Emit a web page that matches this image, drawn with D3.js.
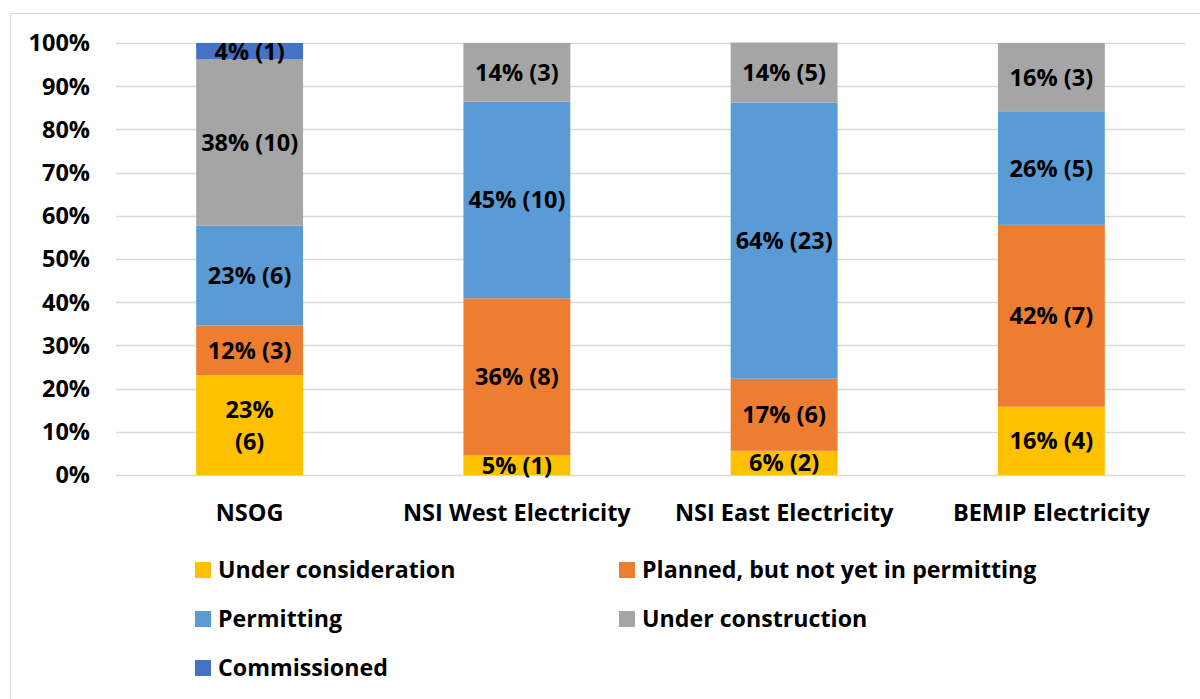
<!DOCTYPE html>
<html>
<head>
<meta charset="utf-8">
<script src="https://d3js.org/d3.v7.min.js"></script>
<style>
  body { margin: 0; background: #fff; }
  svg text { font-family: "Open Sans", Lato, sans-serif; font-weight: bold; fill: #000; }
</style>
</head>
<body>
<div id="chart"></div>
<script>

var categories = ["NSOG", "NSI West Electricity", "NSI East Electricity", "BEMIP Electricity"];

var seriesNames = ["Under consideration", "Planned, but not yet in permitting", "Permitting", "Under construction", "Commissioned"];

// share of projects (%) per status, one array per status
var underConsideration = [23.1, 4.5, 5.6, 15.8];
var planned           = [11.5, 36.4, 16.7, 42.1];
var permitting        = [23.1, 45.5, 63.9, 26.3];
var underConstruction = [38.5, 13.6, 13.9, 15.8];
var commissioned      = [3.8, 0, 0, 0];

// labels shown in the segments
var pctLabels = [
  ["23%", "5%", "6%", "16%"],
  ["12%", "36%", "17%", "42%"],
  ["23%", "45%", "64%", "26%"],
  ["38%", "14%", "14%", "16%"],
  ["4%", "", "", ""]
];
var counts = [
  [6, 1, 2, 4],
  [3, 8, 6, 7],
  [6, 10, 23, 5],
  [10, 3, 5, 3],
  [1, 0, 0, 0]
];

var yTicks = [0, 10, 20, 30, 40, 50, 60, 70, 80, 90, 100];

var colors = ["#FFC000", "#ED7D31", "#5B9BD5", "#A5A5A5", "#4472C4"];

var width = 1200, height = 699;
var fs = "23.5px";

var svg = d3.select("#chart").append("svg")
  .attr("width", width)
  .attr("height", height);

// chart frame
svg.append("path")
  .attr("d", "M10.5,699 L10.5,13.5 L1200,13.5")
  .attr("fill", "none")
  .attr("stroke", "#d9d9d9")
  .attr("stroke-width", 1);

var x = d3.scaleBand()
  .domain(categories)
  .range([116, 1185])
  .paddingInner(0.6)
  .paddingOuter(0.3);

var y = d3.scaleLinear()
  .domain([0, 100])
  .range([475, 43]);

// gridlines
svg.append("g")
  .selectAll("line")
  .data(yTicks)
  .enter().append("line")
  .attr("x1", 116)
  .attr("x2", 1185)
  .attr("y1", d => Math.round(y(d)) + 0.5)
  .attr("y2", d => Math.round(y(d)) + 0.5)
  .attr("stroke", "#d9d9d9")
  .attr("stroke-width", 1.5);

// y tick labels
svg.append("g")
  .selectAll("text")
  .data(yTicks)
  .enter().append("text")
  .attr("x", 90)
  .attr("y", d => y(d))
  .attr("dy", "0.36em")
  .attr("text-anchor", "end")
  .style("font-size", fs)
  .text(d => d + "%");

var seriesValues = [underConsideration, planned, permitting, underConstruction, commissioned];

var table = categories.map(function(c, i) {
  var row = {cat: c};
  seriesNames.forEach(function(s, j) { row[s] = seriesValues[j][i]; });
  return row;
});

var stacked = d3.stack().keys(seriesNames)(table);

var layers = svg.append("g")
  .selectAll("g")
  .data(stacked)
  .enter().append("g")
  .attr("fill", (d, i) => colors[i]);

layers.selectAll("rect")
  .data(d => d)
  .enter().append("rect")
  .attr("x", d => x(d.data.cat))
  .attr("width", x.bandwidth())
  .attr("y", d => y(d[1]))
  .attr("height", d => y(d[0]) - y(d[1]));

// segment labels
var labelGroup = svg.append("g");
stacked.forEach(function(layer, si) {
  layer.forEach(function(d, ci) {
    if (d[1] - d[0] <= 0) return;
    var cx = x(d.data.cat) + x.bandwidth() / 2;
    var cy = (y(d[0]) + y(d[1])) / 2;
    var txt = pctLabels[si][ci] + " (" + counts[si][ci] + ")";
    var t = labelGroup.append("text")
      .attr("x", cx)
      .attr("text-anchor", "middle")
      .style("font-size", fs);
    // NSOG bottom label wraps in the original
    if (si === 0 && ci === 0) {
      t.attr("y", cy - 16).attr("dy", "0.36em");
      t.append("tspan").attr("x", cx).text(pctLabels[si][ci]);
      t.append("tspan").attr("x", cx).attr("dy", "1.36em").text("(" + counts[si][ci] + ")");
    } else {
      t.attr("y", cy).attr("dy", "0.36em").text(txt);
    }
  });
});

// category labels
svg.append("g")
  .selectAll("text")
  .data(categories)
  .enter().append("text")
  .attr("x", d => x(d) + x.bandwidth() / 2)
  .attr("y", 513)
  .attr("dy", "0.36em")
  .attr("text-anchor", "middle")
  .style("font-size", fs)
  .text(d => d);

// legend
var legendPos = [[195, 570], [619, 570], [195, 619], [619, 619], [195, 668]];
var legend = svg.append("g")
  .selectAll("g")
  .data(seriesNames)
  .enter().append("g")
  .attr("transform", (d, i) => "translate(" + legendPos[i][0] + "," + legendPos[i][1] + ")");

legend.append("rect")
  .attr("x", 0)
  .attr("y", -8)
  .attr("width", 16)
  .attr("height", 16)
  .attr("fill", (d, i) => colors[i]);

legend.append("text")
  .attr("x", 23)
  .attr("y", 0)
  .attr("dy", "0.36em")
  .style("font-size", "23.2px")
  .text(d => d);

</script>
</body>
</html>
